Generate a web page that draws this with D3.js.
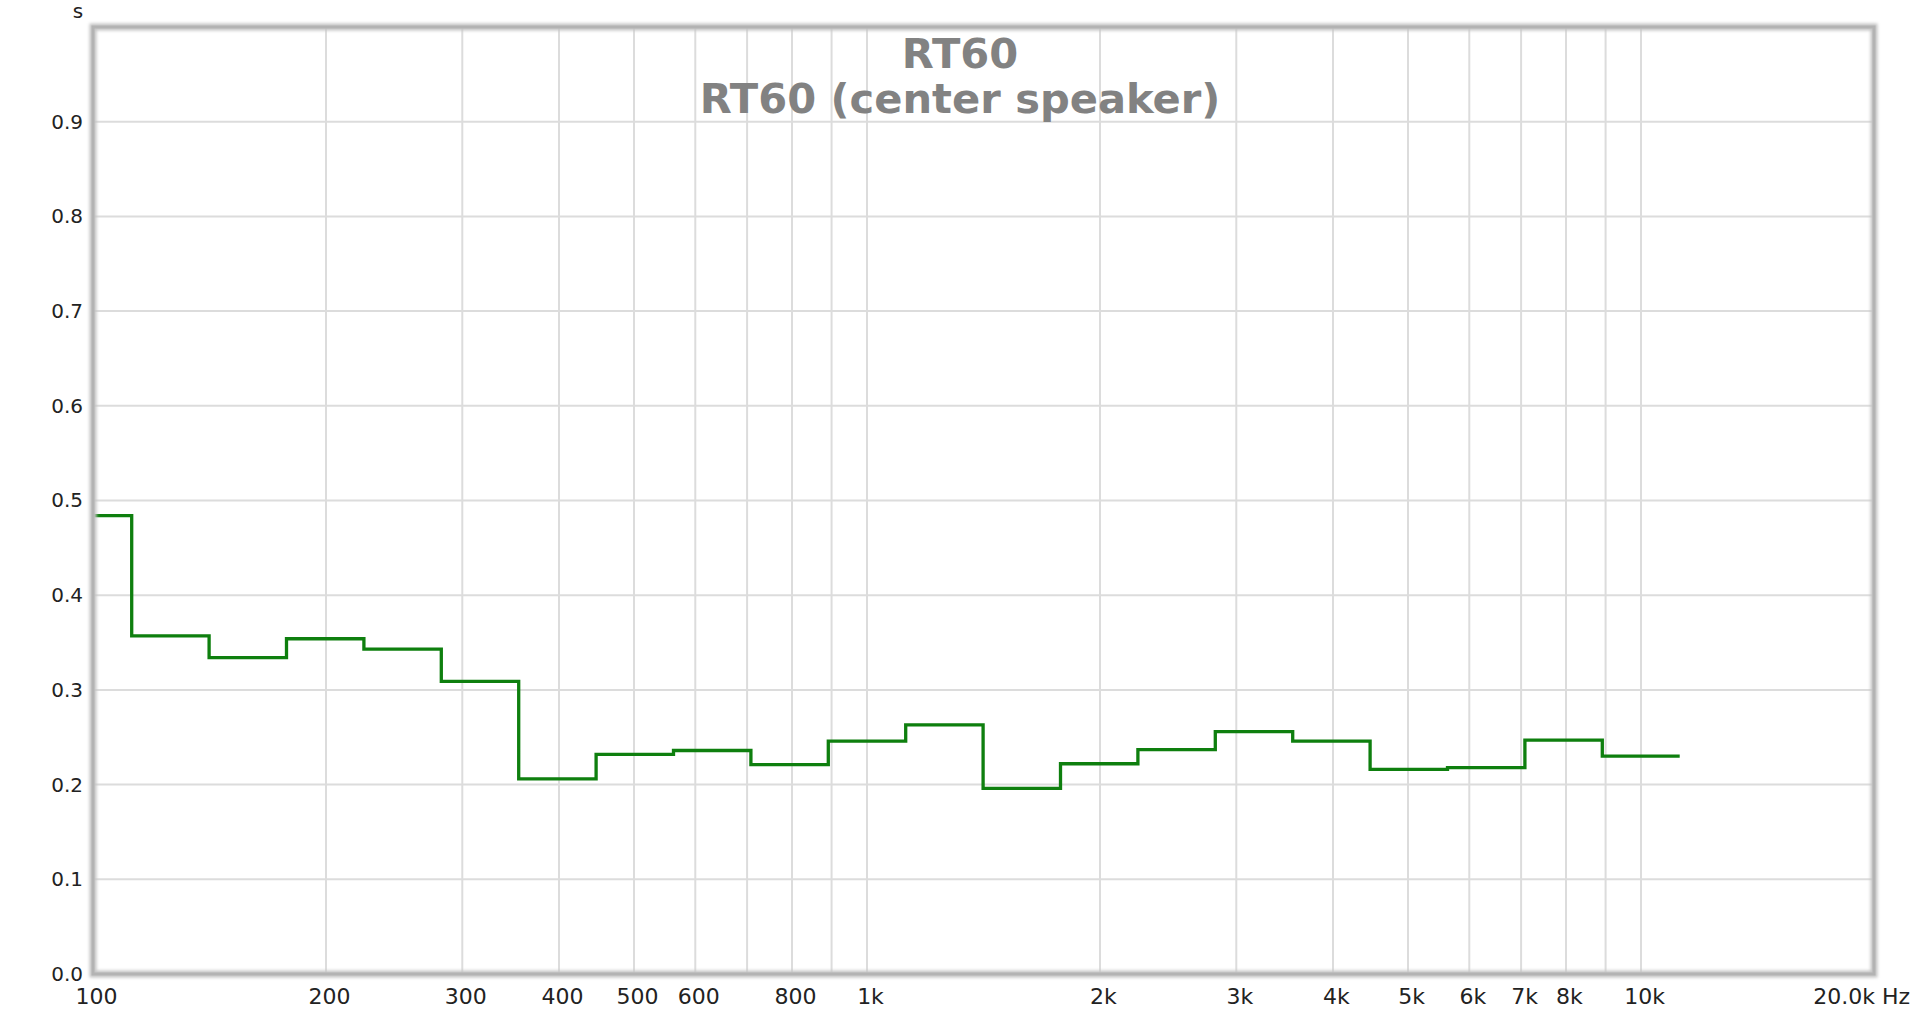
<!DOCTYPE html>
<html>
<head>
<meta charset="utf-8">
<script src="https://cdn.jsdelivr.net/npm/d3@7"></script>
<style>
  html, body { margin: 0; padding: 0; background: #ffffff; }
  svg { display: block; }
</style>
</head>
<body>
<svg id="chart" width="1920" height="1017"></svg>
<script>
// ---- data ----
const titleLines = ["RT60", "RT60 (center speaker)"];
const bandCenters = [100, 125, 160, 200, 250, 315, 400, 500, 630, 800, 1000, 1250, 1600, 2000, 2500, 3150, 4000, 5000, 6300, 8000, 10000];
const rt60Values = [0.484, 0.357, 0.334, 0.354, 0.343, 0.309, 0.206, 0.232, 0.236, 0.221, 0.246, 0.263, 0.196, 0.222, 0.237, 0.256, 0.246, 0.216, 0.218, 0.247, 0.230];
const yTickValues = [0.0, 0.1, 0.2, 0.3, 0.4, 0.5, 0.6, 0.7, 0.8, 0.9];
const xTickValues = [100, 200, 300, 400, 500, 600, 800, 1000, 2000, 3000, 4000, 5000, 6000, 7000, 8000, 10000];
const xTickLabels = ["100", "200", "300", "400", "500", "600", "800", "1k", "2k", "3k", "4k", "5k", "6k", "7k", "8k", "10k"];
const xGridValues = [200, 300, 400, 500, 600, 700, 800, 900, 1000, 2000, 3000, 4000, 5000, 6000, 7000, 8000, 9000, 10000];
const xEndLabel = "20.0k Hz";
const yUnitLabel = "s";

// ---- layout ----
const plot = { left: 93, right: 1874, top: 27, bottom: 974 };
const svg = d3.select("#chart");

const x = d3.scaleLog().domain([100, 20000]).range([plot.left, plot.right]);
const y = d3.scaleLinear().domain([0, 1.0]).range([plot.bottom, plot.top]);

const defs = svg.append("defs");
const blur = defs.append("filter").attr("id", "soft").attr("x", "-5%").attr("y", "-5%").attr("width", "110%").attr("height", "110%");
blur.append("feGaussianBlur").attr("stdDeviation", 1.6);

// plot background
svg.append("rect")
  .attr("x", plot.left).attr("y", plot.top)
  .attr("width", plot.right - plot.left).attr("height", plot.bottom - plot.top)
  .attr("fill", "#ffffff");

// grid lines
const grid = svg.append("g").attr("stroke", "#dcdcdc").attr("stroke-width", 2);
grid.selectAll("line.v").data(xGridValues).join("line")
  .attr("x1", d => x(d)).attr("x2", d => x(d))
  .attr("y1", plot.top).attr("y2", plot.bottom);
grid.selectAll("line.h").data(yTickValues.filter(v => v > 0)).join("line")
  .attr("x1", plot.left).attr("x2", plot.right)
  .attr("y1", d => y(d)).attr("y2", d => y(d));

// title (single text block, two lines)
const titleText = svg.append("text")
  .attr("transform", "translate(960,0) scale(1.015,1)")
  .attr("font-family", "'DejaVu Sans', sans-serif")
  .attr("font-weight", "bold")
  .attr("font-size", 41)
  .attr("fill", "#828282")
  .attr("text-anchor", "middle");
titleText.selectAll("tspan").data(titleLines).join("tspan")
  .attr("x", 0)
  .attr("y", (d, i) => 68 + i * 45)
  .text(d => d);

// step data: 1/3 octave band edges
const bandEdge = (c, side) => {
  const n = Math.round(10 * Math.log10(c));
  return Math.pow(10, (n + side * 0.5) / 10);
};
const stepPoints = bandCenters.map((c, i) => [Math.max(x.domain()[0], bandEdge(c, -1)), rt60Values[i]]);
stepPoints.push([bandEdge(bandCenters[bandCenters.length - 1], 1), rt60Values[rt60Values.length - 1]]);

const line = d3.line()
  .x(d => x(d[0]))
  .y(d => y(d[1]))
  .curve(d3.curveStepAfter);

svg.append("path")
  .datum(stepPoints)
  .attr("d", line)
  .attr("fill", "none")
  .attr("stroke", "#0e7f0e")
  .attr("stroke-width", 3.3)
  .attr("stroke-linejoin", "miter");

// frame
svg.append("rect")
  .attr("x", plot.left).attr("y", plot.top)
  .attr("width", plot.right - plot.left).attr("height", plot.bottom - plot.top)
  .attr("fill", "none").attr("stroke", "#c4c4c4").attr("stroke-width", 7)
  .attr("filter", "url(#soft)");
svg.append("rect")
  .attr("x", plot.left).attr("y", plot.top)
  .attr("width", plot.right - plot.left).attr("height", plot.bottom - plot.top)
  .attr("fill", "none").attr("stroke", "#b3b3b3").attr("stroke-width", 3);

// y axis labels
const yAxis = d3.axisLeft(y).tickValues(yTickValues).tickFormat(d3.format(".1f")).tickSize(0).tickPadding(10);
const yG = svg.append("g").attr("transform", `translate(${plot.left},0)`).call(yAxis);
yG.select(".domain").remove();
yG.selectAll("text")
  .attr("font-family", "'DejaVu Sans', sans-serif")
  .attr("font-size", 20)
  .attr("fill", "#222");

svg.append("text")
  .attr("x", 78).attr("y", 18)
  .attr("text-anchor", "middle")
  .attr("font-family", "'DejaVu Sans', sans-serif")
  .attr("font-size", 20)
  .attr("fill", "#222")
  .text(yUnitLabel);

// x axis labels
const xAxis = d3.axisBottom(x).tickValues(xTickValues)
  .tickFormat((d, i) => xTickLabels[i]).tickSize(0).tickPadding(14);
const xG = svg.append("g").attr("transform", `translate(3,${plot.bottom})`).call(xAxis);
xG.select(".domain").remove();
xG.selectAll("text")
  .attr("font-family", "'DejaVu Sans', sans-serif")
  .attr("font-size", 22)
  .attr("fill", "#222");

svg.append("text")
  .attr("x", 1910).attr("y", plot.bottom + 14)
  .attr("dy", "0.71em")
  .attr("text-anchor", "end")
  .attr("font-family", "'DejaVu Sans', sans-serif")
  .attr("font-size", 22)
  .attr("fill", "#222")
  .text(xEndLabel);
</script>
</body>
</html>
